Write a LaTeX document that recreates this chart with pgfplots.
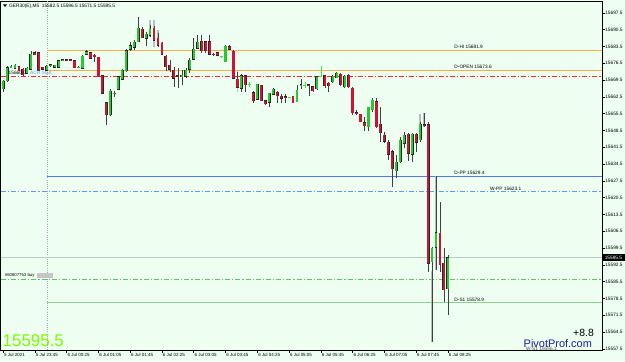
\documentclass[border=0pt]{standalone}
\usepackage{pgfplots}
\pgfplotsset{compat=1.18}
\usepackage{pgfplotstable}
\usepackage{fontspec}
\setmainfont{Liberation Sans}
\definecolor{bg}{RGB}{238,255,242}
\definecolor{cgreen}{RGB}{40,200,50}
\definecolor{cred}{RGB}{205,20,55}
\definecolor{dojig}{RGB}{60,230,60}
\definecolor{orangeline}{RGB}{245,175,70}
\definecolor{redline}{RGB}{235,45,45}
\definecolor{blueline}{RGB}{85,120,225}
\definecolor{bluedd}{RGB}{110,150,230}
\definecolor{greyline}{RGB}{190,200,200}
\definecolor{ghost}{RGB}{185,190,190}
\definecolor{greendd}{RGB}{100,195,100}
\definecolor{greens1}{RGB}{140,210,140}
\definecolor{lawn}{RGB}{124,252,0}
\definecolor{pp}{RGB}{30,30,150}

\pgfplotstableread{
n o h l c
0 15665.7 15669.5 15664.5 15669.0
1 15669.2 15675.3 15668.6 15674.6
2 15674.9 15675.7 15674.3 15675.2
3 15674.3 15676.1 15674.0 15675.7
6 15672.3 15674.9 15672.0 15674.3
7 15674.0 15681.6 15673.6 15680.2
11 15673.6 15675.7 15673.4 15675.3
12 15675.6 15676.1 15674.9 15675.8
13 15674.8 15675.9 15674.5 15675.7
14 15674.8 15677.8 15674.5 15677.5
15 15677.7 15678.0 15677.4 15677.9
19 15674.7 15675.3 15674.3 15674.9
20 15674.3 15679.9 15674.0 15679.5
21 15680.2 15682.0 15679.9 15681.3
27 15654.9 15665.7 15654.5 15664.9
28 15663.8 15664.9 15662.6 15664.1
29 15665.6 15671.1 15665.3 15670.8
30 15669.8 15674.0 15669.5 15673.6
31 15673.2 15682.4 15672.8 15681.7
32 15682.3 15685.4 15681.7 15683.8
33 15683.1 15686.1 15682.0 15685.2
34 15685.4 15695.6 15685.3 15691.0
36 15686.8 15689.6 15683.6 15688.6
37 15688.1 15692.4 15687.5 15690.7
45 15670.8 15673.6 15667.4 15671.6
46 15671.1 15674.3 15670.2 15673.6
47 15674.0 15678.5 15672.3 15677.8
48 15678.1 15686.8 15677.8 15682.3
49 15682.7 15688.2 15682.3 15685.2
56 15677.1 15684.0 15677.0 15683.6
60 15666.0 15672.0 15664.6 15671.3
64 15661.4 15668.0 15661.1 15667.7
67 15660.2 15664.2 15658.3 15663.9
68 15663.6 15666.3 15663.2 15665.6
74 15660.4 15667.4 15660.3 15665.3
75 15667.1 15669.9 15665.7 15667.6
79 15665.7 15671.1 15665.3 15670.8
83 15668.8 15671.6 15668.4 15671.1
84 15670.4 15672.8 15670.3 15672.3
86 15666.7 15671.6 15666.3 15671.1
92 15650.0 15658.4 15648.3 15658.1
93 15657.0 15661.8 15656.3 15661.1
99 15631.7 15638.2 15628.5 15635.2
100 15635.4 15645.8 15635.0 15644.5
101 15643.1 15647.9 15641.0 15646.5
103 15638.6 15647.4 15635.2 15647.0
105 15644.5 15652.1 15643.8 15651.1
108 15593.8 15600.0 15560.4 15599.3
109 15599.8 15629.5 15590.3 15605.8
112 15582.5 15596.5 15571.5 15595.5
}\candlesG

\pgfplotstableread{
n o h l c
4 15675.0 15675.3 15673.2 15673.3
5 15673.9 15674.3 15671.3 15671.6
8 15680.8 15681.6 15679.7 15679.9
9 15680.8 15681.1 15673.2 15673.6
10 15674.8 15674.9 15673.6 15673.9
16 15678.0 15678.2 15677.4 15677.6
17 15678.0 15678.2 15677.4 15677.6
18 15677.5 15677.8 15674.5 15674.6
22 15680.8 15681.1 15678.2 15678.5
23 15679.7 15680.3 15677.1 15679.5
24 15678.9 15679.0 15670.7 15670.8
25 15671.3 15671.6 15663.6 15663.9
26 15660.0 15660.3 15650.7 15654.9
35 15690.7 15691.7 15686.8 15687.1
38 15691.0 15692.0 15685.7 15686.1
39 15686.8 15689.0 15683.3 15684.0
40 15684.8 15685.3 15679.9 15680.2
41 15679.5 15679.9 15673.2 15675.0
42 15675.7 15677.8 15672.9 15673.9
43 15673.6 15675.0 15666.7 15670.2
44 15671.3 15674.5 15666.1 15670.9
50 15685.7 15688.2 15680.8 15681.7
51 15685.4 15685.7 15680.6 15681.7
52 15685.4 15688.2 15679.9 15680.2
53 15680.3 15680.7 15679.5 15680.0
54 15680.8 15681.1 15679.5 15679.8
57 15683.3 15684.0 15682.0 15682.3
58 15681.5 15682.0 15669.9 15670.2
59 15669.8 15672.9 15666.0 15666.4
61 15671.3 15671.6 15664.3 15667.4
63 15664.2 15664.9 15659.8 15660.8
65 15667.4 15667.6 15660.7 15660.8
66 15660.8 15661.1 15659.0 15659.5
69 15664.5 15664.7 15660.0 15662.9
70 15662.8 15663.6 15660.0 15661.8
71 15662.6 15663.6 15660.0 15662.4
73 15662.8 15663.0 15659.9 15660.0
77 15667.6 15667.8 15662.9 15667.2
78 15666.7 15667.1 15664.3 15665.0
81 15671.3 15671.6 15666.0 15667.1
82 15668.1 15668.6 15664.6 15667.1
85 15672.0 15672.4 15667.0 15667.4
87 15671.6 15672.0 15666.3 15666.7
88 15666.1 15666.5 15654.9 15655.8
89 15655.9 15657.0 15654.9 15655.7
90 15655.2 15655.5 15651.8 15652.1
91 15651.7 15654.2 15648.3 15650.4
94 15660.4 15661.8 15649.3 15650.0
95 15651.1 15658.3 15643.8 15647.5
96 15646.5 15647.9 15643.1 15644.0
97 15643.5 15644.5 15636.1 15638.6
98 15639.6 15640.3 15625.0 15632.4
102 15647.0 15647.4 15635.7 15638.9
104 15647.0 15647.3 15639.6 15643.5
106 15650.9 15655.7 15650.0 15650.7
107 15650.8 15652.1 15589.6 15593.1
110 15605.6 15618.8 15589.6 15592.4
111 15593.1 15599.3 15577.1 15582.0
}\candlesR

\pgfplotstableread{
n o h l c
55 15679.2 15679.5 15678.9 15679.2
62 15667.7 15668.5 15666.7 15667.7
72 15662.3 15662.6 15662.0 15662.3
76 15667.4 15668.8 15666.0 15667.4
80 15670.9 15675.3 15670.7 15670.9
}\candlesD

% faint grey overlay bars
\pgfplotstableread{
n lo hi
37 15687.5 15694.5
38 15683.3 15694.5
39 15683.6 15690.3
40 15679.9 15685.3
59 15664.5 15673.2
60 15664.5 15672.0
105 15647.4 15655.3
106 15649.9 15655.7
108 15560.4 15590.0
109 15590.3 15629.5
}\ghostbars

\newcommand\lbl{\fontsize{4.8}{5}\selectfont}
\pgfplotsset{nomark/.style={only marks, mark=*, mark size=0.01bp, mark options={draw opacity=0, fill opacity=0}}}

\begin{document}
\begin{tikzpicture}[x=1bp,y=1bp]
\fill[bg] (0,-11) rectangle (625,350);
\useasboundingbox (0,-11) rectangle (625,350);
\begin{axis}[
  at={(0.7bp,0bp)}, anchor=south west,
  scale only axis, width=601.3bp, height=349bp,
  xmin=-0.6, xmax=150.8, ymin=15557.0, ymax=15702.4,
  axis line style={black, line width=0.6bp},
  tick align=outside, major tick length=2.5bp,
  tick style={black, line width=0.5bp},
  ytick pos=right, yticklabel pos=right,
  xtick pos=left,
  ytick={15557.5,15564.5,15571.5,15578.5,15585.5,15592.5,15599.5,15606.5,15613.5,15620.5,15627.5,15634.5,15641.5,15648.5,15655.5,15662.5,15669.5,15676.5,15683.5,15690.5,15697.5},
  yticklabels={15557.5,15564.5,15571.5,15578.5,15585.5,15592.5,15599.5,15606.5,15613.5,15620.5,15627.5,15634.5,15641.5,15648.5,15655.5,15662.5,15669.5,15676.5,15683.5,15690.5,15697.5},
  yticklabel style={font=\lbl, anchor=west, inner sep=0.6bp},
  xtick={0,8,16,24,32,40,48,56,64,72,80,88,96,104,112},
  xticklabels={5 Jul 2021,5 Jul 23:45,6 Jul 00:25,6 Jul 01:05,6 Jul 01:45,6 Jul 02:25,6 Jul 03:05,6 Jul 03:45,6 Jul 04:25,6 Jul 05:05,6 Jul 05:45,6 Jul 06:25,6 Jul 07:05,6 Jul 07:45,6 Jul 08:25},
  xticklabel style={font=\fontsize{4.5}{5}\selectfont, anchor=north west, inner sep=0.5bp, xshift=0.3bp},
]
% day separator
\addplot[gray!70, line width=0.5bp, dash pattern=on 1bp off 1.2bp] coordinates {(11,15557.0) (11,15702.4)};
% level lines
\addplot[redline, line width=0.8bp, dash pattern=on 5bp off 2bp on 1.2bp off 2bp] coordinates {(-0.6,15671.0) (150.8,15671.0)};
\addplot[orangeline, line width=1bp] coordinates {(11,15681.9) (150.8,15681.9)};
\addplot[orangeline, line width=1bp] coordinates {(11,15673.6) (150.8,15673.6)};
\addplot[blueline, line width=0.8bp] coordinates {(11,15629.4) (150.8,15629.4)};
\addplot[bluedd, line width=0.8bp, dash pattern=on 5bp off 2bp on 1.2bp off 2bp] coordinates {(-0.6,15623.1) (150.8,15623.1)};
\addplot[greyline, line width=1.3bp] coordinates {(-0.6,15595.5) (150.8,15595.5)};
\addplot[greendd, line width=0.8bp, dash pattern=on 5bp off 2bp on 1.2bp off 2bp] coordinates {(-0.6,15586.4) (150.8,15586.4)};
\addplot[greens1, line width=1.2bp] coordinates {(11,15576.8) (150.8,15576.8)};
% grey overlay bars
\addplot[nomark, error bars/.cd, y dir=both, y explicit, error mark=none, error bar style={line width=1.4bp, ghost}]
  table[x=n, y expr={\thisrow{lo}+(\thisrow{hi}-\thisrow{lo})/2}, y error expr={(\thisrow{hi}-\thisrow{lo})/2}] {\ghostbars};
% wicks
\addplot[nomark, error bars/.cd, y dir=both, y explicit, error mark=none, error bar style={line width=0.55bp, black!75}]
  table[x=n, y expr={\thisrow{l}+(\thisrow{h}-\thisrow{l})/2}, y error expr={(\thisrow{h}-\thisrow{l})/2}] {\candlesG};
\addplot[nomark, error bars/.cd, y dir=both, y explicit, error mark=none, error bar style={line width=0.55bp, black!75}]
  table[x=n, y expr={\thisrow{l}+(\thisrow{h}-\thisrow{l})/2}, y error expr={(\thisrow{h}-\thisrow{l})/2}] {\candlesR};
\addplot[nomark, error bars/.cd, y dir=both, y explicit, error mark=none, error bar style={line width=0.6bp, dojig}]
  table[x=n, y expr={\thisrow{l}+(\thisrow{h}-\thisrow{l})/2}, y error expr={(\thisrow{h}-\thisrow{l})/2}] {\candlesD};
\addplot[only marks, mark=-, mark size=1.5bp, mark options={draw=dojig, line width=0.6bp}] table[x=n, y=c] {\candlesD};
% bodies: outline (slightly taller than the body)
\addplot[nomark, error bars/.cd, y dir=both, y explicit, error mark=none, error bar style={line width=2.9bp, black!85}]
  table[x=n, y expr={\thisrow{o}+(\thisrow{c}-\thisrow{o})/2}, y error expr={(\thisrow{c}-\thisrow{o})/2+0.16}] {\candlesG};
\addplot[nomark, error bars/.cd, y dir=both, y explicit, error mark=none, error bar style={line width=2.9bp, black!85}]
  table[x=n, y expr={\thisrow{c}+(\thisrow{o}-\thisrow{c})/2}, y error expr={(\thisrow{o}-\thisrow{c})/2+0.16}] {\candlesR};
% bodies: fill
\addplot[nomark, error bars/.cd, y dir=both, y explicit, error mark=none, error bar style={line width=2.2bp, cgreen}]
  table[x=n, y expr={\thisrow{o}+(\thisrow{c}-\thisrow{o})/2}, y error expr={(\thisrow{c}-\thisrow{o})/2}] {\candlesG};
\addplot[nomark, error bars/.cd, y dir=both, y explicit, error mark=none, error bar style={line width=2.2bp, cred}]
  table[x=n, y expr={\thisrow{c}+(\thisrow{o}-\thisrow{c})/2}, y error expr={(\thisrow{o}-\thisrow{c})/2}] {\candlesR};
% level labels
\node[anchor=base west, inner sep=0, font=\lbl] at (axis cs:113.6,15682.6) {D-HI 15681.9};
\node[anchor=base west, inner sep=0, font=\lbl] at (axis cs:113.6,15674.1) {D-OPEN 15673.6};
\node[anchor=base west, inner sep=0, font=\lbl] at (axis cs:113.6,15630.1) {D-PP 15629.4};
\node[anchor=base west, inner sep=0, font=\lbl] at (axis cs:122.6,15623.6) {W-PP 15623.1};
\node[anchor=base west, inner sep=0, font=\lbl] at (axis cs:113.6,15577.4) {D-S1 15578.9};
\end{axis}
% header
\fill[black] (3,345.5) -- (7,345.5) -- (5,343) -- cycle;
\node[anchor=base west, inner sep=0, font=\lbl] at (9,343) {GER30(E),M5\ \ 15582.5 15596.5 15571.5 15595.5};
% ACR label
\node[anchor=base west, inner sep=0, font=\lbl] at (8.5,275.5) {15660.0};
\node[anchor=base west, inner sep=0, font=\lbl, text=bluedd] at (30,275.5) {ACR Start};
% order label
\node[anchor=base west, inner sep=0, font=\fontsize{4.3}{5}\selectfont] at (4.7,73.2) {\#60607753 buy};
\fill[gray!45] (36.7,71.7) rectangle (53.3,77.3);
% price box
\fill[black] (603,88.8) rectangle (624.5,96.4);
\node[anchor=west, inner sep=0, font=\lbl, text=white] at (604.6,92.6) {15595.5};
% bottom texts
\node[anchor=base west, inner sep=0, font=\fontsize{17}{17}\selectfont, text=lawn] at (2.5,4) {15595.5};
\node[anchor=base west, inner sep=0, font=\fontsize{10.5}{11}\selectfont] at (573,13.3) {+8.8};
\node[anchor=base west, inner sep=0, font=\lbl, text=black!70] at (526,-0.4) {W-S1 15556.1};
\node[anchor=base west, inner sep=0, font=\fontsize{11}{11}\selectfont, text=pp] at (523.5,2.2) {PivotProf.com};
\end{tikzpicture}
\end{document}
